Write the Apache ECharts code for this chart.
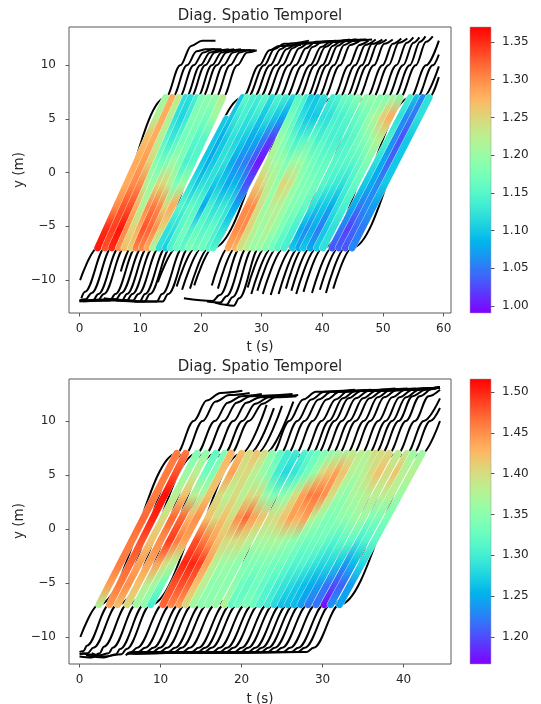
<!DOCTYPE html>
<html><head><meta charset="utf-8">
<script src="https://cdn.jsdelivr.net/npm/echarts@6/dist/echarts.min.js"></script>
<style>html,body{margin:0;padding:0;background:#fff}#c{width:541px;height:704px}</style>
</head><body><div id="c"></div>
<script>
// ---------- shared ----------
const titleText = 'Diag. Spatio Temporel';
const xName = 't (s)';
const yName = 'y (m)';
const yLevels = [-7, -5, -3, -1, 1, 3, 5, 7];   // y positions of speed samples along each band
const yTicks = [-10, -5, 0, 5, 10];

// ---------- top panel ----------
const topXTicks = [0, 10, 20, 30, 40, 50, 60];
const topCbTicks = [1.00, 1.05, 1.10, 1.15, 1.20, 1.25, 1.30, 1.35];
const topRange = [0.9905, 1.3699];
const topIn = [3.0,4.2,5.3,6.5,7.4,8.5,9.3,10.3,11.2,12.1,13.1,14.2,15.0,16.0,17.0,18.0,19.1,20.2,21.3,22.0,
  24.5,25.7,26.5,27.6,28.6,29.6,30.6,31.7,32.6,33.7,35.1,36.1,36.9,38.0,39.1,40.1,41.6,42.7,43.8,44.9];
const topOut = [14.2,15.3,16.4,17.5,18.3,19.4,20.2,21.3,22.4,23.6,24.2,26.9,27.7,28.7,29.7,30.7,31.8,32.9,34.0,35.2,
  36.2,37.4,38.2,39.3,40.3,41.8,42.8,43.9,44.8,45.9,47.3,48.3,49.6,50.7,51.8,52.8,54.5,55.6,56.6,57.6];
const topSpeed = [
  [1.36,1.35,1.30,1.28,1.28,1.27,1.22,1.20],
  [1.33,1.34,1.33,1.30,1.29,1.28,1.28,1.28],
  [1.35,1.36,1.33,1.30,1.25,1.22,1.22,1.23],
  [1.30,1.30,1.28,1.22,1.18,1.15,1.12,1.12],
  [1.27,1.25,1.22,1.20,1.17,1.13,1.11,1.12],
  [1.25,1.28,1.30,1.25,1.18,1.15,1.13,1.14],
  [1.30,1.33,1.31,1.25,1.20,1.17,1.18,1.18],
  [1.30,1.32,1.30,1.22,1.18,1.17,1.18,1.19],
  [1.28,1.30,1.25,1.18,1.14,1.15,1.17,1.20],
  [1.20,1.25,1.28,1.20,1.15,1.15,1.20,1.23],
  [1.12,1.12,1.15,1.12,1.10,1.10,1.10],
  [1.10,1.12,1.14,1.10,1.08,1.08,1.10,1.10],
  [1.14,1.15,1.16,1.12,1.10,1.10,1.13,1.16],
  [1.16,1.17,1.15,1.12,1.12,1.12,1.14,1.14],
  [1.16,1.14,1.08,1.10,1.12,1.11,1.12,1.14],
  [1.18,1.16,1.14,1.10,1.08,1.10,1.13,1.16],
  [1.17,1.15,1.12,1.08,1.06,1.08,1.10,1.12],
  [1.17,1.16,1.13,1.09,1.05,1.08,1.12,1.15],
  [1.15,1.14,1.12,1.07,1.03,1.05,1.10,1.14],
  [1.15,1.12,1.08,1.03,1.00,1.02,1.08,1.12],
  [1.28,1.30,1.30,1.26,1.22,1.20,1.17,1.15],
  [1.27,1.30,1.30,1.24,1.20,1.18,1.15,1.14],
  [1.24,1.25,1.24,1.22,1.20,1.16,1.12,1.10],
  [1.22,1.22,1.20,1.20,1.18,1.14,1.10,1.10],
  [1.20,1.20,1.22,1.25,1.20,1.15,1.10,1.12],
  [1.20,1.22,1.22,1.24,1.20,1.16,1.12,1.14],
  [1.18,1.20,1.20,1.20,1.18,1.14,1.12,1.15],
  [1.17,1.18,1.18,1.18,1.17,1.15,1.14,1.17],
  [1.15,1.16,1.18,1.18,1.16,1.14,1.14,1.17],
  [1.14,1.14,1.16,1.17,1.16,1.14,1.15,1.19],
  [1.10,1.08,1.12,1.15,1.15,1.14,1.16,1.20],
  [1.08,1.06,1.10,1.14,1.15,1.15,1.17,1.20],
  [1.10,1.08,1.10,1.13,1.15,1.17,1.20,1.18],
  [1.08,1.05,1.08,1.12,1.15,1.18,1.22,1.18],
  [1.10,1.10,1.12,1.14,1.16,1.20,1.26,1.20],
  [1.12,1.12,1.14,1.16,1.18,1.22,1.28,1.18],
  [1.03,1.05,1.08,1.10,1.12,1.14,1.12,1.14],
  [1.04,1.02,1.05,1.08,1.08,1.06,1.06,1.10],
  [1.03,1.04,1.06,1.06,1.04,1.03,1.05,1.06],
  [1.06,1.05,1.07,1.10,1.10,1.10,1.12,1.12]
];
const topLow = [
  [[0.1,-10.0]],
  [[0.3,-11.7],[0.9,-11.1]],
  [[0,-11.9],[1.0,-11.8],[2.0,-11.2]],
  [[0,-12.0],[2.2,-11.9],[3.1,-11.3]],
  [[0,-11.9],[3.0,-11.9],[4.0,-11.3]],
  [[6.8,-9.2]],
  [[0.5,-12.0],[5.0,-11.9],[5.9,-11.3]],
  [[1.0,-11.9],[6.0,-11.8],[6.9,-11.2]],
  [[3.0,-11.9],[7.0,-11.9],[7.8,-11.3]],
  [[4.0,-11.7],[7.8,-11.9],[8.7,-11.3]],
  [[5.0,-11.8],[8.8,-11.9],[9.7,-11.3]],
  [[6.0,-11.9],[9.9,-12.0],[10.8,-11.3]],
  [[7.0,-11.9],[10.7,-12.0],[11.6,-11.3]],
  [[12.9,-10.2]],
  [[9.0,-12.0],[12.7,-12.0],[13.6,-11.3]],
  [[10.0,-12.0],[13.7,-12.0],[14.6,-11.3]],
  [[16.0,-10.6]],
  [[16.9,-10.9]],
  [[18.2,-10.8]],
  [[18.9,-10.5]],
  [[21.8,-10.5]],
  [[22.8,-10.8]],
  [[17.2,-11.7],[21.9,-11.95],[23.1,-11.4]],
  [[21.0,-12.0],[23.2,-12.1],[24.2,-11.5]],
  [[22.3,-12.1],[24.2,-12.3],[25.2,-11.6]],
  [[24.0,-12.3],[25.4,-12.4],[26.3,-11.7]],
  [[27.7,-10.7]],
  [[28.3,-11.3]],
  [[29.3,-11.0]],
  [[30.2,-11.3]],
  [[31.5,-11.4]],
  [[32.8,-11.3]],
  [[34.0,-10.8]],
  [[34.9,-11.0]],
  [[35.7,-11.3]],
  [[36.9,-11.1]],
  [[38.3,-11.2]],
  [[39.6,-10.9]],
  [[40.6,-11.2]],
  [[41.8,-10.8]]
];
const topUp = [
  [[16.6,10],[18.4,11.8],[20.2,12.3],[22.4,12.3]],
  [[17.7,10],[19.3,11.3],[20.8,11.5],[22.3,11.5]],
  [[18.8,10],[20.4,11.2],[22.0,11.5],[23.4,11.5]],
  [[19.9,10],[21.5,11.2],[23.0,11.4],[24.6,11.5]],
  [[20.7,10],[22.3,11.2],[23.9,11.4],[25.5,11.5]],
  [[21.8,10],[23.4,11.2],[25.0,11.4],[26.6,11.5]],
  [[22.6,10],[24.2,11.2],[25.8,11.4],[27.3,11.4]],
  [[23.7,10],[25.3,11.2],[26.8,11.4],[28.2,11.4]],
  [[24.8,10],[26.4,11.2],[27.8,11.4],[28.9,11.4]],
  [[26.0,10],[27.6,11.2],[29.2,11.4]],
  [],
  [[29.6,10],[31.3,11.4],[32.9,11.8],[36.5,11.9]],
  [[30.4,10],[32.1,11.5],[33.7,12.0],[37.8,12.3]],
  [[31.4,10],[33.1,11.5],[34.7,12.0],[39.2,12.1]],
  [[32.4,10],[34.1,11.5],[35.7,12.0],[40.8,12.2]],
  [[33.4,10],[35.1,11.6],[36.7,12.1],[42.2,12.3]],
  [[34.5,10],[36.2,11.6],[37.8,12.1],[44.0,12.3]],
  [[35.6,10],[37.3,11.6],[38.9,12.2],[45.8,12.4]],
  [[36.7,10],[38.4,11.7],[40.0,12.2],[47.3,12.4]],
  [[38.0,10],[39.8,11.7],[41.4,12.2],[48.2,12.4]],
  [[38.8,10],[40.5,11.7],[42.0,12.2],[44.5,12.4]],
  [[40.0,10],[41.7,11.8],[43.2,12.3],[45.5,12.4]],
  [[40.8,10],[42.5,11.8],[44.0,12.3],[46.5,12.4]],
  [[41.9,10],[43.6,11.9],[45.2,12.3],[47.0,12.4]],
  [[42.9,10],[44.6,11.9],[46.2,12.3]],
  [[44.4,10],[46.1,11.9],[47.6,12.3]],
  [[45.4,10],[47.1,11.9],[48.8,12.4]],
  [[46.5,10],[48.2,12.0],[49.9,12.4]],
  [[47.4,10],[49.1,12.0],[50.6,12.4]],
  [[48.5,10],[50.2,12.0],[51.6,12.4]],
  [[49.9,10],[51.6,12.0],[53.0,12.5]],
  [[50.9,10],[52.6,12.1],[54.0,12.5]],
  [[52.2,10],[53.9,12.1],[55.0,12.6]],
  [[53.3,10],[55.0,12.1],[56.0,12.6]],
  [[54.4,10],[56.1,12.2],[57.0,12.7]],
  [[55.4,10],[57.1,12.2],[58.2,12.7]],
  [[57.1,10],[59.2,12.3]],
  [[58.2,10],[59.2,11.0]],
  [[59.2,9.9]],
  [[59.2,8.9]]
];

// ---------- bottom panel ----------
const botXTicks = [0, 10, 20, 30, 40];
const botCbTicks = [1.20, 1.25, 1.30, 1.35, 1.40, 1.45, 1.50];
const botRange = [1.1669, 1.5159];
const botIn = [2.4,3.7,4.7,5.9,7.0,8.0,8.8,10.3,11.3,12.3,13.1,14.0,15.0,15.8,16.8,17.9,18.7,19.5,20.5,21.4,
  22.2,23.2,24.0,24.9,25.7,26.5,27.3,28.2,29.2,30.2,31.0,32.1];
const botOut = [12.0,13.1,14.5,15.6,16.8,17.9,18.7,20.0,21.0,21.9,22.9,23.8,24.8,25.7,26.7,27.8,28.7,29.4,30.3,31.2,
  32.0,33.0,33.8,34.8,35.7,36.5,37.3,38.2,39.3,40.4,41.2,42.3];
const botSpeed = [
  [1.37,1.44,1.46,1.46,1.47,1.46,1.46,1.46],
  [1.44,1.46,1.47,1.48,1.50,1.51,1.48,1.46],
  [1.42,1.45,1.44,1.42,1.40,1.38,1.36,1.34],
  [1.40,1.42,1.44,1.45,1.47,1.42,1.38,1.35],
  [1.36,1.38,1.44,1.49,1.47,1.38,1.33,1.32],
  [1.35,1.36,1.40,1.46,1.43,1.37,1.34,1.34],
  [1.30,1.33,1.38,1.44,1.45,1.42,1.42,1.43],
  [1.47,1.48,1.50,1.48,1.42,1.40,1.44,1.42],
  [1.45,1.48,1.50,1.46,1.40,1.38,1.40,1.40],
  [1.44,1.47,1.49,1.44,1.42,1.40,1.40,1.42],
  [1.40,1.42,1.44,1.42,1.40,1.38,1.38,1.40],
  [1.36,1.38,1.38,1.40,1.45,1.40,1.36,1.35],
  [1.35,1.35,1.36,1.40,1.47,1.40,1.34,1.32],
  [1.35,1.35,1.36,1.40,1.44,1.36,1.30,1.30],
  [1.36,1.35,1.35,1.38,1.42,1.34,1.28,1.30],
  [1.38,1.35,1.34,1.37,1.40,1.35,1.29,1.31],
  [1.32,1.33,1.34,1.37,1.40,1.36,1.31,1.32],
  [1.33,1.32,1.34,1.37,1.42,1.40,1.33,1.33],
  [1.34,1.33,1.34,1.37,1.44,1.44,1.36,1.34],
  [1.33,1.32,1.33,1.36,1.43,1.46,1.40,1.35],
  [1.31,1.31,1.33,1.35,1.44,1.46,1.42,1.36],
  [1.30,1.30,1.32,1.34,1.38,1.45,1.44,1.37],
  [1.28,1.29,1.31,1.33,1.36,1.40,1.42,1.38],
  [1.26,1.28,1.31,1.33,1.34,1.36,1.38,1.38],
  [1.26,1.27,1.30,1.33,1.34,1.35,1.37,1.38],
  [1.26,1.26,1.29,1.32,1.35,1.37,1.38,1.40],
  [1.24,1.25,1.28,1.31,1.35,1.37,1.40,1.40],
  [1.22,1.24,1.28,1.32,1.36,1.38,1.42,1.40],
  [1.22,1.22,1.27,1.32,1.36,1.38,1.40,1.38],
  [1.17,1.20,1.24,1.30,1.34,1.38,1.42,1.38],
  [1.24,1.21,1.26,1.31,1.34,1.38,1.38,1.36],
  [1.25,1.24,1.28,1.32,1.34,1.36,1.38,1.36]
];
const botLow = [
  [[0.1,-10.0]],
  [[0,-11.4],[0.5,-11.3],[0.9,-10.8]],
  [[0,-11.6],[1.0,-11.5],[1.7,-11.0]],
  [[0,-11.8],[1.5,-11.9],[2.5,-11.5],[3.0,-10.9]],
  [[0.3,-11.5],[2.5,-11.7],[3.6,-11.5],[4.1,-11.0]],
  [[0.8,-11.7],[3.0,-11.9],[4.5,-11.6],[5.0,-11.1]],
  [[1.5,-11.5],[3.0,-11.8],[5.2,-11.6],[5.8,-11.1]],
  [[5.7,-11.7],[6.4,-11.4],[7.1,-11.0]],
  [[5.8,-11.6],[7.2,-11.4],[8.1,-11.0]],
  [[5.9,-11.5],[8.2,-11.4],[9.1,-11.0]],
  [[6.0,-11.5],[9.0,-11.4],[9.9,-11.0]],
  [[6.0,-11.5],[9.9,-11.4],[10.8,-11.0]],
  [[6.1,-11.5],[10.9,-11.4],[11.8,-11.0]],
  [[6.1,-11.5],[11.7,-11.4],[12.6,-11.0]],
  [[6.2,-11.5],[12.7,-11.4],[13.6,-11.0]],
  [[6.2,-11.5],[13.8,-11.4],[14.7,-11.0]],
  [[6.3,-11.5],[14.6,-11.4],[15.5,-11.0]],
  [[6.3,-11.5],[15.4,-11.4],[16.3,-11.0]],
  [[6.4,-11.5],[16.4,-11.4],[17.3,-11.0]],
  [[6.4,-11.5],[17.3,-11.4],[18.2,-11.0]],
  [[6.5,-11.5],[18.1,-11.4],[19.0,-11.0]],
  [[6.5,-11.5],[19.1,-11.4],[20.0,-11.0]],
  [[6.6,-11.5],[19.9,-11.4],[20.8,-11.0]],
  [[6.6,-11.5],[20.8,-11.4],[21.7,-11.0]],
  [[6.7,-11.5],[21.6,-11.4],[22.5,-11.0]],
  [[6.7,-11.5],[22.4,-11.4],[23.3,-11.0]],
  [[6.8,-11.5],[23.2,-11.4],[24.1,-11.0]],
  [[6.8,-11.5],[24.1,-11.4],[25.0,-11.0]],
  [[6.9,-11.5],[25.1,-11.4],[26.0,-11.0]],
  [[6.9,-11.5],[26.1,-11.4],[27.0,-11.0]],
  [[7.0,-11.5],[26.9,-11.4],[27.8,-11.0]],
  [[7.0,-11.5],[28.0,-11.4],[28.9,-11.0]]
];
const botUp = [
  [[14.1,10],[15.7,11.9],[17.4,12.6],[20.1,12.8]],
  [[15.2,10],[16.8,11.8],[18.5,12.4],[21.0,12.6]],
  [[16.7,10],[18.3,11.7],[20.0,12.3],[22.5,12.5]],
  [[17.8,10],[19.4,11.7],[21.1,12.3],[26.3,12.5]],
  [[19.0,10],[20.6,11.7],[22.3,12.2],[25.5,12.4]],
  [[20.1,10],[21.7,11.6],[23.4,12.2],[27.0,12.4]],
  [[20.9,10],[22.6,11.6],[24.2,12.2],[26.8,12.3]],
  [[23.1,11.5]],
  [[24.0,11.2]],
  [[25.0,11.4]],
  [[26.4,11.8]],
  [[25.9,10],[27.6,12.0],[29.2,12.7],[34.0,12.9]],
  [[26.9,10],[28.6,12.0],[30.2,12.7],[36.0,12.9]],
  [[27.8,10],[29.5,12.0],[31.1,12.7],[37.5,12.9]],
  [[28.8,10],[30.5,12.0],[32.1,12.7],[39.0,13.0]],
  [[29.9,10],[31.6,12.0],[33.2,12.8],[40.5,13.0]],
  [[30.8,10],[32.5,12.1],[34.1,12.8],[41.5,13.0]],
  [[31.5,10],[33.2,12.1],[34.8,12.8],[42.5,13.0]],
  [[32.4,10],[34.1,12.1],[35.7,12.8],[44.5,13.1]],
  [[33.3,10],[35.0,12.1],[36.6,12.8],[44.5,13.1]],
  [[34.1,10],[35.8,12.1],[37.4,12.8],[44.5,13.1]],
  [[35.1,10],[36.8,12.2],[38.4,12.9],[44.5,13.1]],
  [[35.9,10],[37.6,12.2],[39.2,12.9],[44.5,13.1]],
  [[36.9,10],[38.6,12.2],[40.2,12.9],[44.5,13.1]],
  [[37.8,10],[39.5,12.2],[41.1,12.9],[44.5,13.1]],
  [[38.6,10],[40.3,12.2],[41.9,12.9],[44.5,13.1]],
  [[39.4,10],[41.1,12.3],[42.7,12.9],[44.5,13.1]],
  [[40.3,10],[42.0,12.3],[43.6,13.0],[44.5,13.1]],
  [[41.4,10],[43.1,12.3],[44.5,12.9]],
  [[42.5,10],[44.5,12.1]],
  [[43.3,10],[44.5,11.2]],
  [[44.5,10.0]]
];

// ---------- helpers ----------
const FONT = 'DejaVu Sans';
const TXT = '#262626';
const SPINE = '#5a5a5a';
function rainbow(x) {          // matplotlib "rainbow" colormap
  x = Math.max(0, Math.min(1, x));
  const r = Math.min(1, Math.abs(2 * x - 0.5));
  const g = Math.sin(Math.PI * x);
  const b = Math.cos(Math.PI * x / 2);
  return 'rgb(' + Math.round(r * 255) + ',' + Math.round(g * 255) + ',' + Math.round(b * 255) + ')';
}
function cmap(v, range) { return rainbow((v - range[0]) / (range[1] - range[0])); }
function barGradient() {
  const stops = [];
  for (let k = 0; k <= 40; k++) stops.push({ offset: k / 40, color: rainbow(k / 40) });
  return new echarts.graphic.LinearGradient(0, 1, 0, 0, stops);
}
function minusFmt(v) { return v < 0 ? '\u2212' + Math.abs(v) : String(v); }

function panelSeries(gi, tin, tout, low, up, speeds, range) {
  const out = [];
  for (let i = 0; i < tin.length; i++) {
    const n = speeds[i].length;
    const path = low[i].concat([[tin[i], yLevels[0]], [tout[i], yLevels[n - 1]]], up[i]);
    out.push({
      type: 'line', xAxisIndex: gi, yAxisIndex: gi, data: path,
      smooth: 0.35, smoothMonotone: 'x', symbol: 'none', silent: true, z: 2,
      lineStyle: { color: '#000', width: 2 }
    });
  }
  for (let i = 0; i < tin.length; i++) {
    const n = speeds[i].length;
    const band = [[tin[i], yLevels[0]], [tout[i], yLevels[n - 1]]];
    const stops = speeds[i].map((v, k) => ({ offset: k / (n - 1), color: cmap(v, range) }));
    // faint white rim (marker edge), then the coloured band on top
    out.push({
      type: 'line', xAxisIndex: gi, yAxisIndex: gi, data: band,
      symbol: 'none', silent: true, z: 3,
      lineStyle: { width: 7.5, cap: 'round', color: 'rgba(255,255,255,0.85)' }
    });
    out.push({
      type: 'line', xAxisIndex: gi, yAxisIndex: gi, data: band,
      symbol: 'none', silent: true, z: 3,
      lineStyle: { width: 6.9, cap: 'round', color: new echarts.graphic.LinearGradient(0, 1, 0, 0, stops) }
    });
  }
  return out;
}

function mainX(gi, min, max, ticks) {
  return {
    gridIndex: gi, type: 'value', min: min, max: max, position: 'bottom',
    axisLine: { show: false, onZero: false },
    axisTick: { show: true, customValues: ticks, length: 3.5, lineStyle: { color: SPINE, width: 1 } },
    axisLabel: { customValues: ticks, formatter: minusFmt, color: TXT, fontSize: 12, fontFamily: FONT, margin: 10 },
    splitLine: { show: false }
  };
}
function mainY(gi, min, max) {
  return {
    gridIndex: gi, type: 'value', min: min, max: max, position: 'left',
    axisLine: { show: false, onZero: false },
    axisTick: { show: true, customValues: yTicks, length: 3.5, lineStyle: { color: SPINE, width: 1 } },
    axisLabel: { customValues: yTicks, formatter: minusFmt, color: TXT, fontSize: 12, fontFamily: FONT, margin: 13 },
    splitLine: { show: false }
  };
}
function cbY(gi, range, ticks) {
  return {
    gridIndex: gi, type: 'value', min: range[0], max: range[1], position: 'right',
    axisLine: { show: false, onZero: false },
    axisTick: { show: true, customValues: ticks, length: 3.5, lineStyle: { color: SPINE, width: 1 } },
    axisLabel: { customValues: ticks, formatter: v => v.toFixed(2), color: TXT, fontSize: 12, fontFamily: FONT, margin: 11 },
    splitLine: { show: false }
  };
}
function txt(x, y, s, size, rot) {
  return {
    type: 'text', x: x, y: y, rotation: rot || 0, silent: true,
    style: { text: s, fill: TXT, fontSize: size, fontFamily: FONT, align: 'center', verticalAlign: 'middle',
             textAlign: 'center', textVerticalAlign: 'middle' }
  };
}

const chart = echarts.init(document.getElementById('c'), null, { renderer: 'canvas' });
chart.setOption({
  animation: false,
  backgroundColor: '#fff',
  grid: [
    { left: 69, top: 27, width: 382, height: 286, show: true, backgroundColor: 'rgba(0,0,0,0)', borderColor: SPINE, borderWidth: 1 },
    { left: 69, top: 379, width: 382, height: 285, show: true, backgroundColor: 'rgba(0,0,0,0)', borderColor: SPINE, borderWidth: 1 },
    { left: 470, top: 27, width: 21, height: 286, show: true, backgroundColor: barGradient(), borderColor: '#9a9a9a', borderWidth: 0.5 },
    { left: 470, top: 379, width: 21, height: 285, show: true, backgroundColor: barGradient(), borderColor: '#9a9a9a', borderWidth: 0.5 }
  ],
  xAxis: [
    mainX(0, -1.73, 61.2, topXTicks),
    mainX(1, -1.30, 45.86, botXTicks),
    { gridIndex: 2, type: 'value', show: false, min: 0, max: 1 },
    { gridIndex: 3, type: 'value', show: false, min: 0, max: 1 }
  ],
  yAxis: [
    mainY(0, -13.07, 13.57),
    mainY(1, -12.5, 13.89),
    cbY(2, topRange, topCbTicks),
    cbY(3, botRange, botCbTicks)
  ],
  graphic: [
    txt(260, 16, titleText, 15),
    txt(260, 347, xName, 13.5),
    txt(19, 170, yName, 13.5, Math.PI / 2),
    txt(260, 367, titleText, 15),
    txt(260, 699, xName, 13.5),
    txt(19, 521, yName, 13.5, Math.PI / 2)
  ],
  series: panelSeries(0, topIn, topOut, topLow, topUp, topSpeed, topRange)
    .concat(panelSeries(1, botIn, botOut, botLow, botUp, botSpeed, botRange))
});
</script></body></html>
